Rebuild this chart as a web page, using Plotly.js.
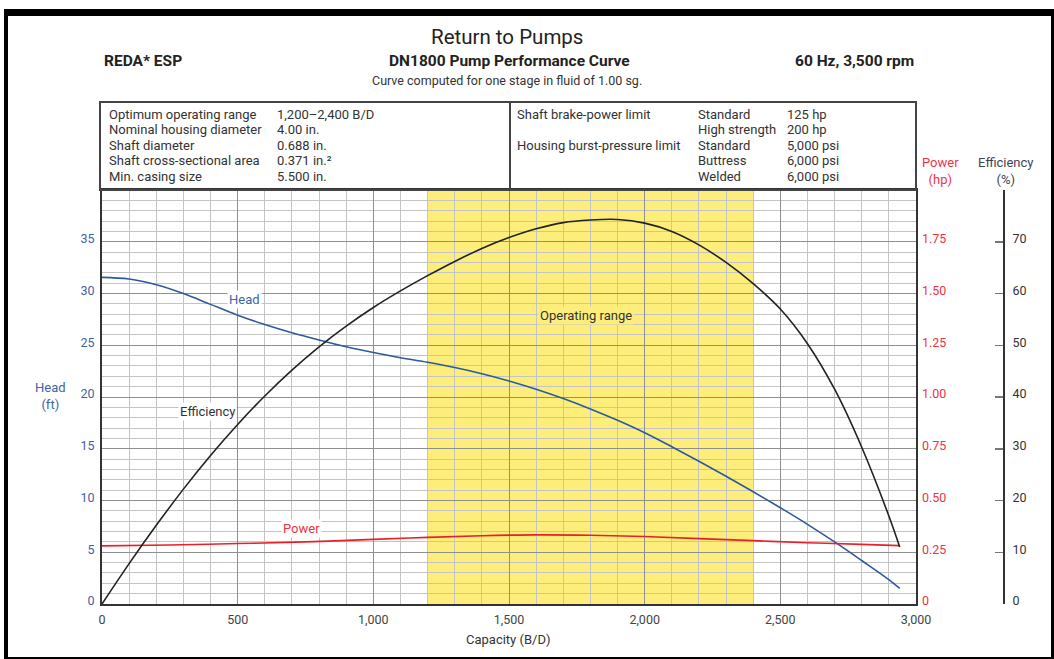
<!DOCTYPE html>
<html>
<head>
<meta charset="utf-8">
<script src="https://cdn.plot.ly/plotly-3.0.1.min.js"></script>
<style>
  html, body { margin: 0; padding: 0; background: #fff; }
  #wrap { position: relative; width: 1054px; height: 659px; }
  #chart { position: absolute; left: 0; top: 0; width: 1054px; height: 659px; }
  #frame { position: absolute; left: 4px; top: 9px; width: 1050px; height: 650px; box-sizing: border-box;
           border-top: 7px solid #000; border-left: 4px solid #000; border-right: 3px solid #000; border-bottom: 2px solid #000;
           pointer-events: none; }
</style>
</head>
<body>
<div id="wrap"><div id="chart"></div><div id="frame"></div></div>
<script>
// ---- Data ----
const capacity = [0,100,200,300,400,500,600,700,800,900,1000,1100,1200,1300,1400,1500,1600,1700,1800,1900,2000,2100,2200,2300,2400,2500,2600,2700,2800,2900,2940];
const headFt = [31.56,31.4,30.85,30.0,28.95,27.9,27.0,26.2,25.5,24.85,24.3,23.8,23.35,22.85,22.25,21.55,20.75,19.85,18.85,17.75,16.55,15.2,13.8,12.35,10.85,9.3,7.7,6.0,4.2,2.35,1.5];
const efficiencyPct = [0,7.8,15.2,22.2,28.7,34.7,40.2,45.2,49.7,53.7,57.3,60.5,63.45,66.2,68.7,70.8,72.5,73.7,74.2,74.3,73.6,72.0,69.4,66.0,61.9,57.0,50.3,41.5,30.3,17.0,11.0];
const powerCap = [0,250,500,750,1000,1200,1400,1600,1800,2000,2200,2400,2600,2800,2940];
const powerHp = [0.281,0.285,0.292,0.300,0.312,0.322,0.330,0.334,0.332,0.326,0.316,0.306,0.296,0.288,0.282];
const operatingRange = [1200, 2400];
const xTicks = [0,500,1000,1500,2000,2500,3000];
const xTickText = ['0','500','1,000','1,500','2,000','2,500','3,000'];
const headTicks = [0,5,10,15,20,25,30,35];
const powerTicks = [0,0.25,0.5,0.75,1.0,1.25,1.5,1.75];
const powerTickText = ['0','0.25','0.50','0.75','1.00','1.25','1.50','1.75'];
const effTicks = [0,10,20,30,40,50,60,70,80];
const effTickText = ['0','10','20','30','40','50','60','70',''];
const infoLeftLabels = ['Optimum operating range','Nominal housing diameter','Shaft diameter','Shaft cross-sectional area','Min. casing size'];
const infoLeftValues = ['1,200–2,400 B/D','4.00 in.','0.688 in.','0.371 in.²','5.500 in.'];
const infoRightLabels = ['Shaft brake-power limit','','Housing burst-pressure limit','',''];
const infoRightTypes = ['Standard','High strength','Standard','Buttress','Welded'];
const infoRightValues = ['125 hp','200 hp','5,000 psi','6,000 psi','6,000 psi'];

// ---- Styling ----
const FONT = 'Roboto, "Liberation Sans", sans-serif';
const BLUE = '#2c5a9a', BLUE_T = '#3f63a6', RED = '#e8202a', RED_T = '#ee3344', DARK = '#333333', EFF_T = '#3d4458';
const YELLOW = '#fdee7c';

const L = 102, R = 1004, T = 190, B = 604;           // plot area in pixels
const X = p => (p - L) / (R - L);
const Y = p => (B - p) / (B - T);

const anns = [];
function txt(text, px, py, opts) {
  anns.push(Object.assign({
    text: text, xref: 'paper', yref: 'paper', x: X(px), y: Y(py),
    xanchor: 'left', yanchor: 'middle', showarrow: false,
    font: {family: FONT, size: 13, color: DARK}
  }, opts || {}));
}

// Header
txt('Return to Pumps', 507, 37, {xanchor: 'center', font: {family: FONT, size: 20.5, color: '#222'}});
txt('<b>REDA* ESP</b>', 102, 61, {font: {family: FONT, size: 15.5, color: '#222'}});
txt('<b>DN1800 Pump Performance Curve</b>', 509, 61, {xanchor: 'center', font: {family: FONT, size: 15.5, color: '#222'}});
txt('<b>60 Hz, 3,500 rpm</b>', 916, 61, {xanchor: 'right', font: {family: FONT, size: 15.5, color: '#222'}});
txt('Curve computed for one stage in fluid of 1.00 sg.', 507, 81, {xanchor: 'center', font: {family: FONT, size: 12.5, color: DARK}});

// Info table
const rowY = [114, 129.5, 145, 160.5, 176];
infoLeftLabels.forEach((t, i) => txt(t, 107, rowY[i]));
infoLeftValues.forEach((t, i) => txt(t, 275, rowY[i]));
infoRightLabels.forEach((t, i) => { if (t) txt(t, 515, rowY[i]); });
infoRightTypes.forEach((t, i) => txt(t, 696, rowY[i]));
infoRightValues.forEach((t, i) => txt(t, 785, rowY[i]));

// Axis titles
txt('Head<br>(ft)', 50, 396, {xanchor: 'center', font: {family: FONT, size: 13, color: BLUE_T}});
txt('Power<br>(hp)', 940, 171, {xanchor: 'center', font: {family: FONT, size: 13, color: RED_T}});
txt('Efficiency<br>(%)', 1005, 171, {xanchor: 'center', font: {family: FONT, size: 13, color: EFF_T}});
txt('Capacity (B/D)', 508, 639, {xanchor: 'center', font: {family: FONT, size: 13, color: DARK}});

// Curve labels (data coords)
function lab(text, x, y, color, bg) {
  anns.push({text: text, x: x, y: y, xref: 'x', yref: 'y', showarrow: false,
    font: {family: FONT, size: 13, color: color}, bgcolor: bg, borderpad: 1});
}
lab('Head', 526, 29.4, BLUE_T, '#ffffff');
lab('Efficiency', 388, 18.6, DARK, '#ffffff');
lab('Power', 737, 7.33, RED_T, '#ffffff');
lab('Operating range', 1785, 27.86, DARK, YELLOW);

const shapes = [
  {type: 'rect', xref: 'x', yref: 'paper', x0: operatingRange[0], x1: operatingRange[1], y0: 0, y1: 1,
   fillcolor: YELLOW, line: {width: 0}, layer: 'below'},
  {type: 'rect', xref: 'paper', yref: 'paper', x0: X(100), x1: X(916), y0: Y(190), y1: Y(102),
   line: {color: '#444', width: 2}, fillcolor: 'rgba(0,0,0,0)'},
  {type: 'line', xref: 'paper', yref: 'paper', x0: X(510), x1: X(510), y0: Y(190), y1: Y(102),
   line: {color: '#444', width: 2}}
];

const traces = [
  {x: capacity, y: headFt, type: 'scatter', mode: 'lines', line: {color: BLUE, width: 1.6, shape: 'spline', smoothing: 1}, yaxis: 'y', hoverinfo: 'skip'},
  {x: capacity, y: efficiencyPct, type: 'scatter', mode: 'lines', line: {color: '#222', width: 1.6, shape: 'spline', smoothing: 1}, yaxis: 'y3', hoverinfo: 'skip'},
  {x: powerCap, y: powerHp, type: 'scatter', mode: 'lines', line: {color: RED, width: 1.6, shape: 'spline', smoothing: 1}, yaxis: 'y2', hoverinfo: 'skip'}
];

const tickFont = c => ({family: FONT, size: 12.5, color: c});

const layout = {
  width: 1054, height: 659,
  margin: {l: L, r: 1054 - R, t: T, b: 659 - B, pad: 0},
  paper_bgcolor: '#ffffff', plot_bgcolor: 'rgba(0,0,0,0)',
  showlegend: false,
  xaxis: {
    range: [0, 3000], domain: [0, 814 / (R - L)], tickvals: xTicks, ticktext: xTickText,
    showgrid: true, gridcolor: '#8f8f8f', gridwidth: 1,
    minor: {dtick: 100, showgrid: true, gridcolor: '#c4c4c4', gridwidth: 1, ticks: ''},
    showline: true, mirror: true, linecolor: DARK, linewidth: 2, zeroline: false, ticks: '',
    tickfont: tickFont('#444'), fixedrange: true, ticklabelstandoff: 3
  },
  yaxis: {
    range: [0, 40], tickvals: headTicks, showgrid: true, gridcolor: '#8f8f8f', gridwidth: 1,
    minor: {dtick: 1, showgrid: true, gridcolor: '#c4c4c4', gridwidth: 1, ticks: ''},
    showline: true, mirror: true, linecolor: DARK, linewidth: 2, zeroline: false, ticks: '',
    tickfont: tickFont(BLUE_T), fixedrange: true, ticklabelshift: -3, ticklabelstandoff: 3
  },
  yaxis2: {
    range: [0, 2], overlaying: 'y', side: 'right', anchor: 'x', tickvals: powerTicks, ticktext: powerTickText,
    showgrid: false, zeroline: false, showline: false, ticks: '', tickfont: tickFont(RED_T), fixedrange: true,
    ticklabelshift: -3, ticklabelstandoff: 5
  },
  yaxis3: {
    range: [0, 80], overlaying: 'y', side: 'right', anchor: 'free', position: 1,
    tickvals: effTicks, ticktext: effTickText, showgrid: false, zeroline: false,
    showline: true, linecolor: DARK, linewidth: 2, ticks: 'inside', ticklen: 8, tickwidth: 1.5, tickcolor: '#777',
    tickfont: tickFont(DARK), fixedrange: true, ticklabelshift: -3, ticklabelstandoff: 5
  },
  annotations: anns,
  shapes: shapes
};

Plotly.newPlot('chart', traces, layout, {displayModeBar: false, staticPlot: true});
</script>
</body>
</html>
